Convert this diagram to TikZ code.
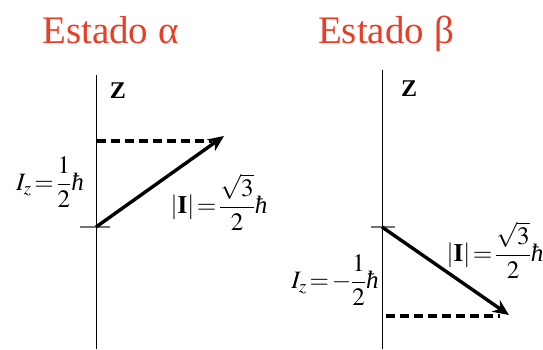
\documentclass[tikz,border=0pt]{standalone}
\usepackage{mathptmx}
\usepackage{fontspec}
\setmainfont{Liberation Serif}
\usetikzlibrary{arrows.meta}
\definecolor{titlered}{RGB}{232,62,40}
\newcommand{\hb}{\mbox{\itshape ħ}}
\newcommand{\eqs}{\!=\!}
\tikzset{
  titletext/.style={font=\fontsize{39}{45}\selectfont, text=titlered, anchor=base, inner sep=0pt},
  axisline/.style={line width=1pt, black},
  tickline/.style={line width=1.6pt, black!55},
  vecline/.style={line width=3.4pt, -{Stealth[length=16pt,width=14pt,inset=5pt]}},
  projline/.style={line width=3.4pt, dash pattern=on 9pt off 5pt},
  lab/.style={font=\fontsize{25}{29}\selectfont, inner sep=0pt},
  zlab/.style={font=\fontsize{24}{27}\selectfont\bfseries, inner sep=0pt}
}
\begin{document}
\begin{tikzpicture}[x=1pt,y=-1pt]
\useasboundingbox (0,0) rectangle (543,349);
% titles
\node[titletext] (ta) at (110.5,43) {Estado α};
\node[titletext] (tb) at (386,43) {Estado β};
% left diagram
\coordinate (la0) at (96,75);
\coordinate (la1) at (96,349);
\coordinate (lt0) at (80,227);
\coordinate (lt1) at (110,227);
\coordinate (lo) at (96,227);
\coordinate (lv) at (224,136);
\coordinate (ld0) at (97,141);
\coordinate (ld1) at (212,141);
\draw[axisline] (la0) -- (la1);
\draw[tickline] (lt0) -- (lt1);
\draw[projline] (ld0) -- (ld1);
\draw[vecline] (lo) -- (lv);
\node[zlab] (lz) at (118,91) {Z};
\node[lab] (liz) at (50,182) {$\displaystyle I_z\eqs\frac{1}{2}\hb$};
\node[lab] (lmag) at (219,202) {$\displaystyle \left|\mathbf{I}\right|\eqs\frac{\sqrt{3}}{2}\hb$};
% right diagram
\coordinate (ra0) at (382,70);
\coordinate (ra1) at (382,349);
\coordinate (rt0) at (371,227);
\coordinate (rt1) at (395,227);
\coordinate (ro) at (382,227);
\coordinate (rv) at (509,315);
\coordinate (rd0) at (386,316);
\coordinate (rd1) at (500,316);
\draw[axisline] (ra0) -- (ra1);
\draw[tickline] (rt0) -- (rt1);
\draw[projline] (rd0) -- (rd1);
\draw[vecline] (ro) -- (rv);
\node[zlab] (rz) at (409,89) {Z};
\node[lab] (riz) at (335,280) {$\displaystyle I_z\eqs-\frac{1}{2}\hb$};
\node[lab] (rmag) at (495,250) {$\displaystyle \left|\mathbf{I}\right|\eqs\frac{\sqrt{3}}{2}\hb$};
\end{tikzpicture}
\end{document}
